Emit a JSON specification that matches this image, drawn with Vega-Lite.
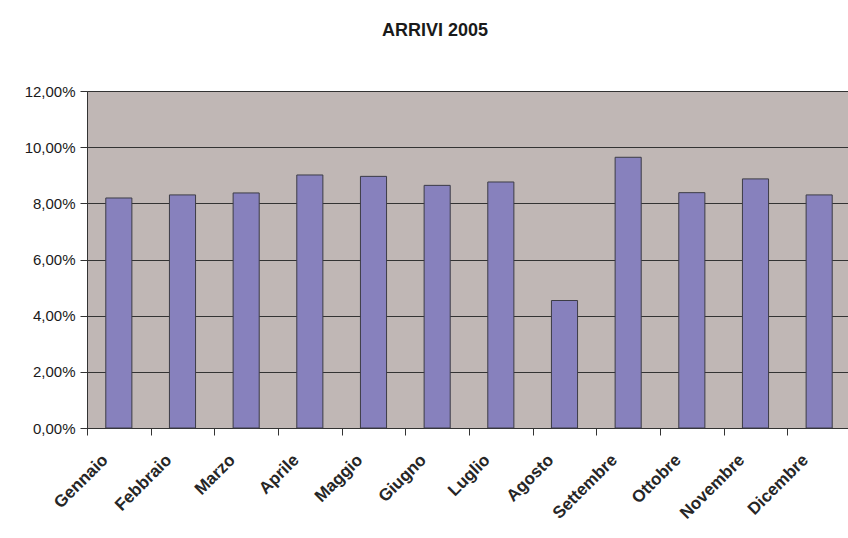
{
  "$schema": "https://vega.github.io/schema/vega-lite/v6.json",
  "width": 764,
  "height": 337,
  "autosize": {"type": "none"},
  "padding": {"left": 87, "top": 91, "right": 0, "bottom": 110},
  "background": "#ffffff",
  "title": {
    "text": "ARRIVI 2005",
    "anchor": "middle",
    "frame": "group",
    "dx": -34,
    "offset": 44,
    "font": "Liberation Sans",
    "fontSize": 18,
    "fontWeight": "bold",
    "color": "#1a1a1a"
  },
  "data": {
    "values": [
      {"mese": "Gennaio", "valore": 0.0819},
      {"mese": "Febbraio", "valore": 0.0830},
      {"mese": "Marzo", "valore": 0.0837},
      {"mese": "Aprile", "valore": 0.0901},
      {"mese": "Maggio", "valore": 0.0896},
      {"mese": "Giugno", "valore": 0.0864},
      {"mese": "Luglio", "valore": 0.0876},
      {"mese": "Agosto", "valore": 0.0454},
      {"mese": "Settembre", "valore": 0.0964},
      {"mese": "Ottobre", "valore": 0.0838},
      {"mese": "Novembre", "valore": 0.0887},
      {"mese": "Dicembre", "valore": 0.0830}
    ]
  },
  "mark": {
    "type": "bar",
    "width": {"band": 0.41},
    "fill": "#8781bd",
    "stroke": "#3c3c46",
    "strokeWidth": 1
  },
  "encoding": {
    "x": {
      "field": "mese",
      "type": "nominal",
      "sort": null,
      "scale": {"paddingInner": 0, "paddingOuter": 0},
      "axis": {
        "title": null,
        "tickBand": "extent",
        "grid": false,
        "labelAngle": -45,
        "labelAlign": "right",
        "labelBaseline": "middle",
        "labelOffset": -14,
        "labelPadding": 22,
        "labelFont": "Liberation Sans",
        "labelFontSize": 17,
        "labelFontWeight": "bold",
        "labelColor": "#262626",
        "tickSize": 7,
        "tickColor": "#333333",
        "domainColor": "#333333",
        "labelOverlap": false
      }
    },
    "y": {
      "field": "valore",
      "type": "quantitative",
      "scale": {"domain": [0, 0.12], "nice": false},
      "axis": {
        "title": null,
        "format": ".2%",
        "values": [0, 0.02, 0.04, 0.06, 0.08, 0.1, 0.12],
        "labelFont": "Liberation Sans",
        "labelFontSize": 15,
        "labelColor": "#1a1a1a",
        "labelPadding": 5,
        "tickSize": 7,
        "tickColor": "#333333",
        "domainColor": "#333333",
        "grid": true,
        "gridColor": "#333333",
        "gridWidth": 1
      }
    }
  },
  "config": {
    "locale": {
      "number": {
        "decimal": ",",
        "thousands": ".",
        "grouping": [3],
        "currency": ["", " €"]
      }
    },
    "view": {"fill": "#c0b7b5", "stroke": "#8a8a8a", "strokeWidth": 1}
  }
}
